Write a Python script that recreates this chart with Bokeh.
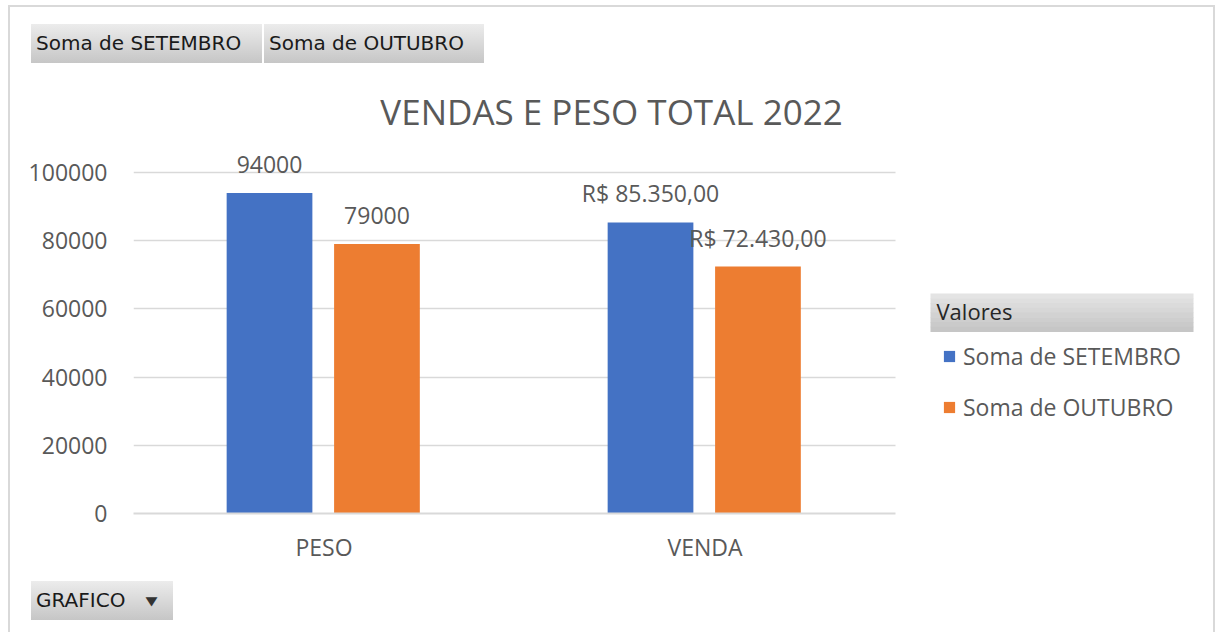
from bokeh.plotting import figure
from bokeh.layouts import column
from bokeh.models import (ColumnDataSource, Range1d, LabelSet, Label, Div,
                          BoxAnnotation, Legend, LegendItem, FixedTicker, NumeralTickFormatter)
from bokeh.transform import dodge
from bokeh.core.properties import value
from bokeh.embed import file_html
from bokeh.resources import INLINE

# ---------------- data ----------------
categories = ["PESO", "VENDA"]
setembro = [94000, 85350]
outubro = [79000, 72430]
series_names = ["Soma de SETEMBRO", "Soma de OUTUBRO"]
y_ticks = [0, 20000, 40000, 60000, 80000, 100000]
title_text = "VENDAS E PESO TOTAL 2022"
legend_title = "Valores"
filter_button = "GRAFICO"


def fmt(cat, v):
    if cat == "VENDA":
        s = f"{v:,.2f}".replace(",", "X").replace(".", ",").replace("X", ".")
        return "R$ " + s
    return str(int(v))


xpos = [i + 0.5 for i in range(len(categories))]
src = ColumnDataSource(dict(
    x=xpos,
    set=setembro,
    out=outubro,
    set_lbl=[fmt(c, v) for c, v in zip(categories, setembro)],
    out_lbl=[fmt(c, v) for c, v in zip(categories, outubro)],
))

GRAY_TXT = "#595959"
FONT = "Open Sans"

# page layout (absolute px)
OX, OY = 10, 7            # content origin (inside outer border)
CW = 1203                 # content width
TOP_H = 63                # top div height  -> figure starts at 70
FIG_TOP = OY + TOP_H
FIG_BOT = 575
FL, FB, FR = 133, 513, OX + CW   # frame left / bottom / right
CAT_PX = (895 - FL) / len(categories)   # px per category
PX_PER_UNIT = 341 / 100000

p = figure(width=CW, height=FIG_BOT - FIG_TOP,
           x_range=Range1d(0, (FR - FL) / CAT_PX),
           y_range=Range1d(0, (FB - FIG_TOP) / PX_PER_UNIT),
           output_backend="svg", toolbar_location=None,
           min_border_left=FL - OX, min_border_right=0, min_border_top=0,
           min_border_bottom=FIG_BOT - FB)
p.outline_line_color = None
p.background_fill_color = "white"
p.border_fill_color = "white"

ncat = len(categories)
GRID_C = "#d9d9d9"
# horizontal grid lines limited to the category area
p.xgrid.grid_line_color = None
try:
    p.ygrid.cross_bounds = (0, ncat)
    p.ygrid.grid_line_color = GRID_C
    p.ygrid.grid_line_width = 1.5
except AttributeError:
    p.ygrid.grid_line_color = None
    p.segment(x0=0, x1=ncat, y0=y_ticks, y1=y_ticks, line_color=GRID_C, line_width=1.5)

b1 = p.vbar(x=dodge("x", -0.143), top="set", width=0.225,
            source=src, fill_color="#4472C4", line_color=None)
b2 = p.vbar(x=dodge("x", 0.139), top="out", width=0.225,
            source=src, fill_color="#ED7D31", line_color=None)

for col, lbl, off in (("set", "set_lbl", -0.143), ("out", "out_lbl", 0.139)):
    p.add_layout(LabelSet(x=dodge("x", off), y=col, text=lbl, source=src,
                          y_offset=20, text_align="center", text_baseline="alphabetic",
                          text_font=value(FONT), text_font_size="23px",
                          text_color=GRAY_TXT))

# axes
p.yaxis.ticker = FixedTicker(ticks=y_ticks)
p.yaxis.formatter = NumeralTickFormatter(format="0")
p.yaxis.axis_line_color = None
p.yaxis.major_tick_line_color = None
p.yaxis.minor_tick_line_color = None
p.yaxis.major_label_standoff = 20
p.xaxis.ticker = FixedTicker(ticks=xpos)
p.xaxis.major_label_overrides = {x: c for x, c in zip(xpos, categories)}
p.xaxis.bounds = (0, ncat)
p.xaxis.axis_line_color = GRID_C
p.xaxis.axis_line_width = 2
p.xaxis.major_tick_line_color = None
p.xaxis.minor_tick_line_color = None
p.xaxis.major_label_standoff = 11
for ax in (p.xaxis, p.yaxis):
    ax.major_label_text_font = FONT
    ax.major_label_text_font_size = "23px"
    ax.major_label_text_color = GRAY_TXT


def sx(x):
    return x - FL


def sy(y):
    return FB - y


# title
p.add_layout(Label(x=sx(611), y=sy(111), x_units="screen", y_units="screen",
                   text=title_text, text_font=FONT, text_font_size="35px",
                   text_color=GRAY_TXT, text_align="center", text_baseline="alphabetic"))

# legend header (gradient box)
n = 8
y0, y1 = 293, 331
for i in range(n):
    t = i / (n - 1)
    c = tuple(int(a + (b - a) * t) for a, b in zip((228, 228, 228), (198, 198, 198)))
    p.add_layout(BoxAnnotation(left=sx(930), right=sx(1193),
                               top=sy(y0 + i * (y1 - y0) / n),
                               bottom=sy(y0 + (i + 1) * (y1 - y0) / n + 0.6),
                               left_units="screen", right_units="screen",
                               top_units="screen", bottom_units="screen",
                               fill_color="#%02x%02x%02x" % c, fill_alpha=1,
                               line_color=None))
p.add_layout(Label(x=sx(936), y=sy(310), x_units="screen", y_units="screen",
                   text=legend_title, text_font=FONT, text_font_size="22px",
                   text_color="#262626", text_baseline="alphabetic"))

legend = Legend(items=[LegendItem(label=series_names[0], renderers=[b1]),
                       LegendItem(label=series_names[1], renderers=[b2])],
                location=(sx(942), sy(423)), orientation="vertical",
                label_text_font=FONT, label_text_font_size="23px",
                label_text_color=GRAY_TXT, glyph_width=14, glyph_height=14,
                label_standoff=7, spacing=19, padding=0, margin=0,
                border_line_color=None, background_fill_alpha=0)
p.add_layout(legend, "center")

# field buttons (HTML)
BTN = ("position:absolute;height:39px;line-height:39px;box-sizing:border-box;"
       "padding-left:5px;background:linear-gradient(#ececec,#c6c6c6);"
       "font-family:'DejaVu Sans';font-size:20px;color:#1a1a1a;white-space:nowrap;")
top_html = (
    f'<div style="position:relative;width:{CW}px;height:{TOP_H}px;">'
    f'<div style="{BTN}left:{31 - OX}px;top:{24 - OY}px;width:231px;">{series_names[0]}</div>'
    f'<div style="{BTN}left:{264 - OX}px;top:{24 - OY}px;width:220px;">{series_names[1]}</div>'
    '</div>')
bot_h = 632 - FIG_BOT
bot_html = (
    f'<div style="position:relative;width:{CW}px;height:{bot_h}px;">'
    f'<div style="{BTN}left:{31 - OX}px;top:{581 - FIG_BOT}px;width:142px;">{filter_button}'
    '<span style="position:absolute;left:116px;top:1px;font-size:12px;color:#333;'
    'display:inline-block;transform:scaleX(1.3);">&#9660;</span>'
    '</div></div>')
top_div = Div(text=top_html, width=CW, height=TOP_H, margin=0)
bot_div = Div(text=bot_html, width=CW, height=bot_h, margin=0)

layout = column(top_div, p, bot_div, spacing=0,
                styles={"border-left": "2px solid #d9d9d9",
                        "border-right": "2px solid #d9d9d9",
                        "border-top": "2px solid #d9d9d9",
                        "margin-left": "8px", "margin-top": "5px"})

open("out.html", "w").write(file_html(layout, INLINE))
